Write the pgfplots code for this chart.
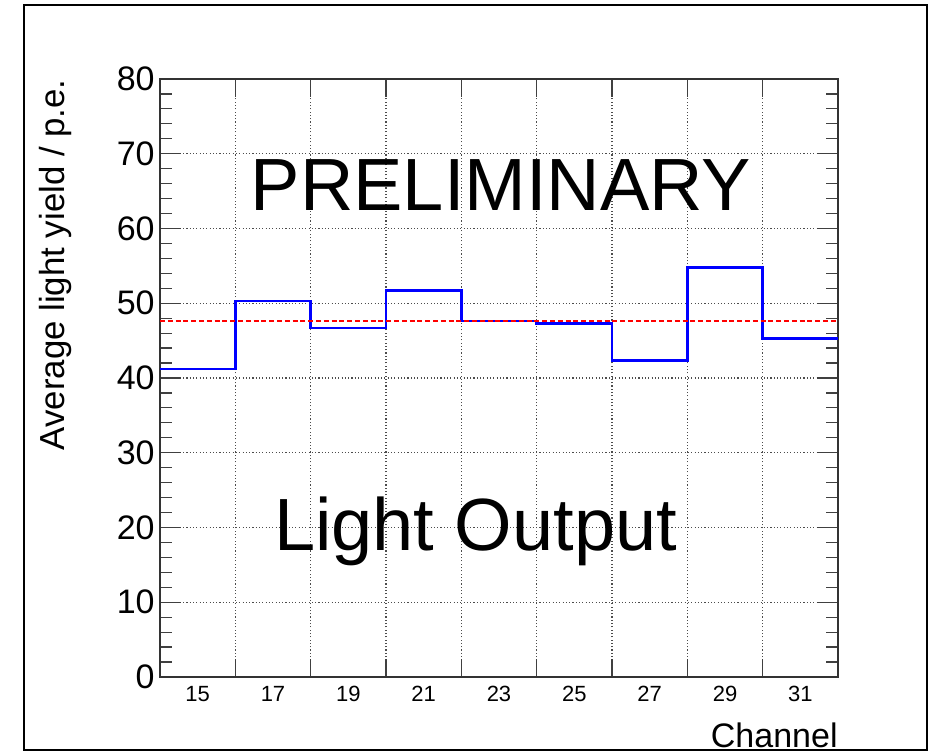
\documentclass[border=0pt]{standalone}
\usepackage{fontspec}
\setmainfont{Liberation Sans}
\usepackage{pgfplots}
\pgfplotsset{compat=1.18}
\begin{document}
\begin{tikzpicture}
\useasboundingbox (0,0) rectangle (466.5pt,376.5pt);
\begin{axis}[
  at={(80pt,38pt)}, anchor=south west,
  scale only axis, width=339pt, height=299pt,
  xmin=14, xmax=32, ymin=0, ymax=80,
  axis line style={black!80, line width=0.7pt},
  tick pos=both, tick align=inside,
  xtick={16,18,...,30}, xticklabels={},
  extra x ticks={15,17,...,31},
  extra x tick labels={15,17,19,21,23,25,27,29,31},
  extra x tick style={grid=none, tick style={draw=none}},
  ytick={0,10,...,80},
  minor y tick num=4,
  xtick style={black!75, line width=0.6pt, /pgfplots/major tick length=9pt},
  ytick style={black!75, line width=0.6pt, /pgfplots/major tick length=10.5pt, /pgfplots/minor tick length=5.8pt},
  xmajorgrids, ymajorgrids,
  major grid style={black!70, line width=0.55pt, dash pattern=on 0.55pt off 1.1pt},
  /pgf/number format/assume math mode=true,
  xticklabel style={font=\fontsize{11pt}{13pt}\selectfont, inner sep=0pt, anchor=north, yshift=-4.3pt},
  yticklabel style={font=\fontsize{17pt}{19pt}\selectfont, inner sep=0pt, anchor=east, xshift=-2.5pt},
  xlabel={Channel},
  xlabel style={font=\fontsize{17pt}{19pt}\selectfont, at={(axis description cs:1,0)}, anchor=base east, yshift=-35.2pt, inner sep=0pt},
  ylabel={Average light yield / p.e.},
  ylabel style={font=\fontsize{17.4pt}{19pt}\selectfont, at={(axis description cs:-0.1411,1)}, anchor=base east, inner sep=0pt},
  clip=false,
]
\addplot[const plot, blue, line width=1.3pt] coordinates {
  (14,41.2) (16,50.3) (18,46.7) (20,51.7) (22,47.6) (24,47.3) (26,42.3) (28,54.8) (30,45.25) (32,45.25)
};
\addplot[red, line width=1.15pt, dash pattern=on 2.5pt off 1.4pt] coordinates {
  (14,47.6) (32,47.6)
};
\node[anchor=base, font=\fontsize{37pt}{40pt}\selectfont, inner sep=0pt] at (axis cs:23.05,62.34) {PRELIMINARY};
\node[anchor=base, font=\fontsize{37pt}{40pt}\selectfont, inner sep=0pt] at (axis cs:22.38,16.86) {Light Output};
\end{axis}
\draw[black, line width=1pt] (12pt,1.5pt) rectangle (463.5pt,374pt);
\end{tikzpicture}
\end{document}
